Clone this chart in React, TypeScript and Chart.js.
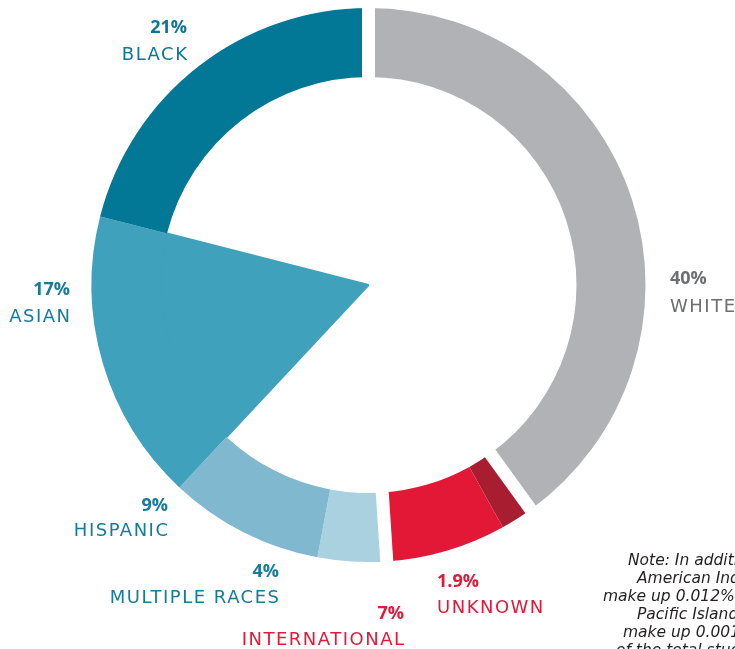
import React, { useEffect, useRef } from "react";
import { Chart, registerables } from "chart.js";

Chart.register(...registerables);

// ---- data (clockwise from 12 o'clock) ----
const CATEGORIES = ["White", "Unknown", "International", "Multiple Races", "Hispanic", "Asian", "Black"];
const LABEL_NAMES = ["WHITE", "UNKNOWN", "INTERNATIONAL", "MULTIPLE RACES", "HISPANIC", "ASIAN", "BLACK"];
const SHARES = [40, 1.9, 7, 4, 9, 17, 21];
const PCT_LABELS = ["40%", "1.9%", "7%", "4%", "9%", "17%", "21%"];
const SLICE_COLORS = ["#b0b2b5", "#a81e30", "#e21836", "#a9d1e0", "#80b8cf", "#3fa1bc", "#027796"];
const TEXT_COLORS = ["#6d6e71", "#e3193a", "#e3193a", "#147b9a", "#147b9a", "#147b9a", "#0b7696"];
// the slice drawn all the way to the centre
const FULL_WEDGE = ["Asian"];
// boundaries (end of these slices) separated by a white gap
const GAP_AFTER = ["Black", "White", "International"];
const NOTE_LINES = [
  "Note: In addition,",
  "American Indians",
  "make up 0.012% and",
  "Pacific Islanders",
  "make up 0.001%",
  "of the total students.",
];

// ---- layout (kept apart from the data) ----
const W = 735;
const H = 649;
const RADIUS = 277;
const RING = 69;
const GAP_WIDTH = 13;
const LABEL_LAYOUT = [
  { x: 670, align: "left", pct: 284, name: 312 },
  { x: 437, align: "left", pct: 587, name: 613 },
  { x: 404, align: "right", pct: 619, name: 645 },
  { x: 279, align: "right", pct: 577, name: 603 },
  { x: 168, align: "right", pct: 511, name: 536 },
  { x: 70, align: "right", pct: 295, name: 322 },
  { x: 187, align: "right", pct: 33, name: 60 },
];
const NOTE_LAYOUT = [
  { x: 628, base: 566 },
  { x: 637, base: 584 },
  { x: 603, base: 602 },
  { x: 637, base: 620 },
  { x: 623, base: 638 },
  { x: 616, base: 656 },
];

const PCT_FONT = 18;
const NAME_FONT = 18;
const NOTE_FONT = 15.5;
const NAME_SPACING = 1.5;

const gapPlugin = {
  id: "sliceGaps",
  afterDatasetsDraw(chart: any) {
    const meta = chart.getDatasetMeta(0);
    const ctx = chart.ctx;
    ctx.save();
    ctx.strokeStyle = "#ffffff";
    ctx.lineWidth = GAP_WIDTH;
    ctx.lineCap = "butt";
    for (const name of GAP_AFTER) {
      const i = CATEGORIES.indexOf(name);
      const arc: any = meta.data[i];
      if (!arc) continue;
      const a = arc.endAngle;
      const r0 = arc.innerRadius - 2;
      const r1 = arc.outerRadius + 3;
      ctx.beginPath();
      ctx.moveTo(arc.x + Math.cos(a) * r0, arc.y + Math.sin(a) * r0);
      ctx.lineTo(arc.x + Math.cos(a) * r1, arc.y + Math.sin(a) * r1);
      ctx.stroke();
    }
    ctx.restore();
  },
};

function ChartCanvas() {
  const ref = useRef<HTMLCanvasElement | null>(null);
  useEffect(() => {
    if (!ref.current) return;
    const transparent = "rgba(0,0,0,0)";
    const innerColors = CATEGORIES.map((c, i) => (FULL_WEDGE.includes(c) ? SLICE_COLORS[i] : transparent));
    const chart = new Chart(ref.current, {
      type: "doughnut",
      data: {
        labels: CATEGORIES,
        datasets: [
          {
            data: SHARES,
            backgroundColor: SLICE_COLORS,
            borderWidth: 0,
            weight: RING,
          } as any,
          {
            data: SHARES,
            backgroundColor: innerColors,
            borderColor: innerColors,
            borderWidth: CATEGORIES.map((c) => (FULL_WEDGE.includes(c) ? 2 : 0)),
            weight: RADIUS - RING,
          } as any,
        ],
      },
      options: {
        responsive: false,
        animation: false,
        events: [],
        cutout: 0,
        radius: RADIUS,
        layout: {
          padding: { left: 91.5, right: 89.5, top: 8, bottom: 87 },
        },
        plugins: {
          legend: { display: false },
          tooltip: { enabled: false },
        },
      } as any,
      plugins: [gapPlugin],
    });
    return () => chart.destroy();
  }, []);
  return (
    <canvas
      ref={ref}
      width={W}
      height={H}
      style={{ position: "absolute", left: 0, top: 0, width: W, height: H }}
    />
  );
}

export default function App() {
  // baseline offsets for line-height == font-size
  const pctK = 0.888; // Open Sans
  const nameK = 0.846; // DejaVu Sans
  const noteK = 0.846;
  return (
    <div
      style={{
        position: "fixed",
        left: 0,
        top: 0,
        width: W,
        height: H,
        overflow: "hidden",
        background: "#ffffff",
      }}
    >
      <ChartCanvas />
      {CATEGORIES.map((c, i) => {
        const l = LABEL_LAYOUT[i];
        const posStyle: any =
          l.align === "right" ? { right: W - l.x, textAlign: "right" } : { left: l.x, textAlign: "left" };
        return (
          <React.Fragment key={c}>
            <div
              style={{
                position: "absolute",
                top: l.pct - pctK * PCT_FONT,
                ...posStyle,
                fontFamily: "'Open Sans', sans-serif",
                fontWeight: 700,
                fontSize: PCT_FONT,
                lineHeight: `${PCT_FONT}px`,
                color: TEXT_COLORS[i],
                whiteSpace: "nowrap",
              }}
            >
              {PCT_LABELS[i]}
            </div>
            <div
              style={{
                position: "absolute",
                top: l.name - nameK * NAME_FONT,
                ...posStyle,
                marginRight: l.align === "right" ? -NAME_SPACING : 0,
                fontFamily: "'DejaVu Sans', sans-serif",
                fontWeight: 400,
                fontSize: NAME_FONT,
                lineHeight: `${NAME_FONT}px`,
                letterSpacing: NAME_SPACING,
                color: TEXT_COLORS[i],
                whiteSpace: "nowrap",
              }}
            >
              {LABEL_NAMES[i]}
            </div>
          </React.Fragment>
        );
      })}
      {NOTE_LINES.map((t, i) => (
        <div
          key={i}
          style={{
            position: "absolute",
            left: NOTE_LAYOUT[i].x,
            top: NOTE_LAYOUT[i].base - noteK * NOTE_FONT,
            fontFamily: "'DejaVu Sans', sans-serif",
            fontStyle: "italic",
            fontSize: NOTE_FONT,
            lineHeight: `${NOTE_FONT}px`,
            color: "#231f20",
            whiteSpace: "nowrap",
          }}
        >
          {t}
        </div>
      ))}
    </div>
  );
}
